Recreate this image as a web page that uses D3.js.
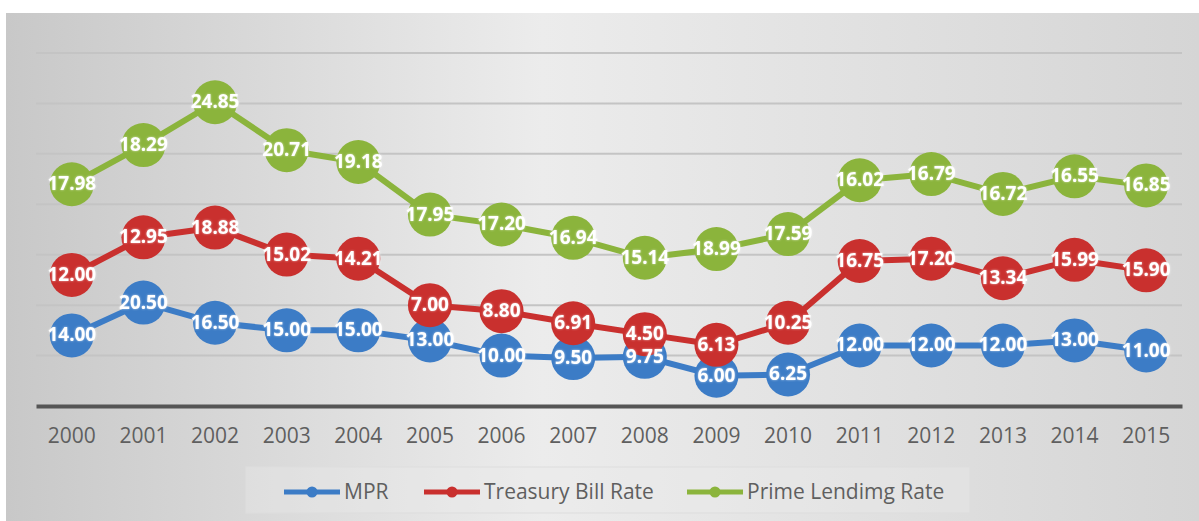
<!DOCTYPE html>
<html>
<head>
<meta charset="utf-8">
<script src="https://cdn.jsdelivr.net/npm/d3@7"></script>
<style>
  body { margin: 0; background: #fff; }
  svg { display: block; }
</style>
</head>
<body>
<div id="chart"></div>
<script>
// years along the x axis
const years = ["2000","2001","2002","2003","2004","2005","2006","2007","2008","2009","2010","2011","2012","2013","2014","2015"];
// series values (stacked in the chart)
const mpr = [14.00, 20.50, 16.50, 15.00, 15.00, 13.00, 10.00, 9.50, 9.75, 6.00, 6.25, 12.00, 12.00, 12.00, 13.00, 11.00];
const tbill = [12.00, 12.95, 18.88, 15.02, 14.21, 7.00, 8.80, 6.91, 4.50, 6.13, 10.25, 16.75, 17.20, 13.34, 15.99, 15.90];
const prime = [17.98, 18.29, 24.85, 20.71, 19.18, 17.95, 17.20, 16.94, 15.14, 18.99, 17.59, 16.02, 16.79, 16.72, 16.55, 16.85];
const seriesNames = ["MPR", "Treasury Bill Rate", "Prime Lendimg Rate"];
const seriesColors = ["#3c7cc6", "#c9302e", "#8bb43c"];
const yTicks = [0, 10, 20, 30, 40, 50, 60, 70];

const width = 1199, height = 521;

const svg = d3.select("#chart").append("svg")
    .attr("width", width)
    .attr("height", height);

// background gradient like the original
const defs = svg.append("defs");
const grad = defs.append("linearGradient").attr("id", "bg").attr("x1", "0").attr("x2", "1").attr("y1", "0").attr("y2", "0");
grad.append("stop").attr("offset", "0%").attr("stop-color", "#c8c8c8");
grad.append("stop").attr("offset", "45%").attr("stop-color", "#ececec");
grad.append("stop").attr("offset", "100%").attr("stop-color", "#d5d5d5");
const glow = defs.append("filter").attr("id", "glow").attr("x", "-20%").attr("y", "-40%").attr("width", "140%").attr("height", "180%");
glow.append("feGaussianBlur").attr("in", "SourceAlpha").attr("stdDeviation", 1.2).attr("result", "b");
glow.append("feFlood").attr("flood-color", "#ffffff").attr("flood-opacity", 0.6);
glow.append("feComposite").attr("in2", "b").attr("operator", "in").attr("result", "g");
const fm = glow.append("feMerge");
fm.append("feMergeNode").attr("in", "g");
fm.append("feMergeNode").attr("in", "SourceGraphic");

svg.append("rect")
    .attr("x", 6).attr("y", 13)
    .attr("width", width - 6).attr("height", height - 13)
    .attr("fill", "url(#bg)");

// scales
const x = d3.scaleBand().domain(years).range([36, 1182]);
const y = d3.scaleLinear().domain([0, 70]).range([406, 53]);
const cx = d => x(d) + x.bandwidth() / 2;

// gridlines
svg.append("g")
    .selectAll("line")
    .data(yTicks.slice(1))
    .join("line")
    .attr("x1", 36).attr("x2", 1182)
    .attr("y1", d => y(d)).attr("y2", d => y(d))
    .attr("stroke", "#c4c4c4")
    .attr("stroke-width", 2);

// x axis
const xAxis = svg.append("g")
    .attr("transform", `translate(0,${y(0)})`)
    .call(d3.axisBottom(x).tickSize(0).tickPadding(22));
xAxis.select(".domain").attr("stroke", "#555").attr("stroke-width", 4);
xAxis.selectAll("text")
    .attr("fill", "#5f5f5f")
    .style("font-family", "'Open Sans', sans-serif")
    .style("font-size", "21px");

// stacked data
const table = years.map((yr, i) => ({ year: yr, MPR: mpr[i], "Treasury Bill Rate": tbill[i], "Prime Lendimg Rate": prime[i] }));
const stacked = d3.stack().keys(seriesNames)(table);

const line = d3.line()
    .x(d => cx(d.data.year))
    .y(d => y(d[1]));

const groups = svg.append("g")
    .selectAll("g")
    .data(stacked)
    .join("g");

groups.append("path")
    .attr("d", d => line(d))
    .attr("fill", "none")
    .attr("stroke", (d, i) => seriesColors[i])
    .attr("stroke-width", 6)
    .attr("stroke-linejoin", "round");

groups.selectAll("circle")
    .data((s, i) => s.map(p => ({ p, i })))
    .join("circle")
    .attr("cx", d => cx(d.p.data.year))
    .attr("cy", d => y(d.p[1]))
    .attr("r", 22)
    .attr("fill", d => seriesColors[d.i]);

// data labels on top of everything
const labels = svg.append("g").attr("filter", "url(#glow)");
stacked.forEach((s, i) => {
    labels.selectAll(null)
        .data(s)
        .join("text")
        .attr("x", d => cx(d.data.year))
        .attr("y", d => y(d[1]) + 6)
        .attr("text-anchor", "middle")
        .attr("fill", "#ffffff")
        .style("font-family", "'Noto Sans', sans-serif")
        .style("font-weight", "bold")
        .style("font-size", "19px")
        .text(d => (d[1] - d[0]).toFixed(2));
});

// legend
const legend = svg.append("g");
legend.append("rect")
    .attr("x", 246).attr("y", 467)
    .attr("width", 724).attr("height", 46)
    .attr("fill", "#ececec")
    .attr("fill-opacity", 0.35)
    .attr("stroke", "#dddddd");
const legendX = [284, 424, 687];
seriesNames.forEach((name, i) => {
    const g = legend.append("g").attr("transform", `translate(${legendX[i]},492)`);
    g.append("line").attr("x1", 0).attr("x2", 56).attr("y1", 0).attr("y2", 0)
        .attr("stroke", seriesColors[i]).attr("stroke-width", 5);
    g.append("circle").attr("cx", 28).attr("cy", 0).attr("r", 5.5).attr("fill", seriesColors[i]);
    g.append("text")
        .attr("x", 60).attr("y", 7)
        .attr("fill", "#5f5f5f")
        .style("font-family", "'Open Sans', sans-serif")
        .style("font-size", "21px")
        .text(name);
});
</script>
</body>
</html>
